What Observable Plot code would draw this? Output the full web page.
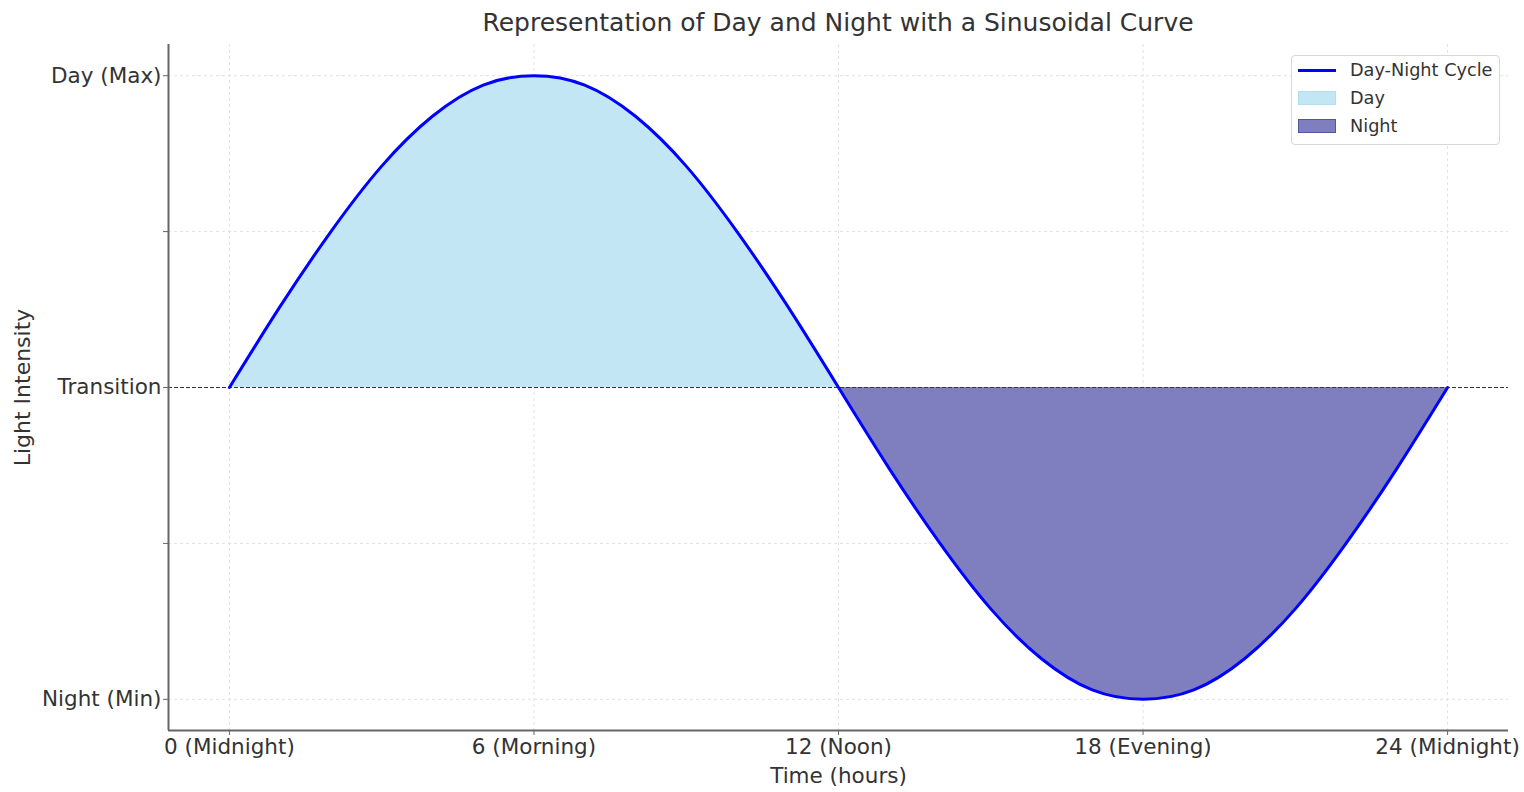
<!DOCTYPE html>
<html><head><meta charset="utf-8">
<script src="https://cdn.jsdelivr.net/npm/d3@7"></script>
<script src="https://cdn.jsdelivr.net/npm/@observablehq/plot@0.6"></script>
<style>
body{margin:0;background:#fff;font-family:"DejaVu Sans",sans-serif;}
#wrap{position:relative;width:1524px;height:792px;overflow:hidden;}
#title{position:absolute;left:168px;width:1340px;top:8px;text-align:center;font-size:25px;color:#333;line-height:30px;}
#chart{position:absolute;left:0;top:40px;}
#legend{position:absolute;left:1291px;top:55px;width:209px;height:90px;border:1px solid #d8d8d8;border-radius:4px;background:#fff;box-sizing:border-box;font-size:17.7px;color:#333;}
.item{position:absolute;left:6px;height:20px;display:flex;align-items:center;}
.sw{width:38px;height:14px;margin-right:14px;box-sizing:border-box;}
</style></head>
<body>
<div id="wrap">
  <div id="title">Representation of Day and Night with a Sinusoidal Curve</div>
  <div id="chart"></div>
  <div id="legend">
    <div class="item" style="top:4px"><div class="sw" style="height:3px;background:#0000ff"></div><span>Day-Night Cycle</span></div>
    <div class="item" style="top:32px"><div class="sw" style="background:#c3e6f5;border:1px solid #b5dcef"></div><span>Day</span></div>
    <div class="item" style="top:60px"><div class="sw" style="background:#7f7fbf;border:1px solid #5555a0"></div><span>Night</span></div>
  </div>
</div>
<script>
const hours = [0,1,2,3,4,5,6,7,8,9,10,11,12,13,14,15,16,17,18,19,20,21,22,23,24];
const intensity = [0,0.26,0.5,0.71,0.87,0.97,1,0.97,0.87,0.71,0.5,0.26,0,-0.26,-0.5,-0.71,-0.87,-0.97,-1,-0.97,-0.87,-0.71,-0.5,-0.26,0];
const xTicks = [0,6,12,18,24];
const xTickLabels = ["0 (Midnight)","6 (Morning)","12 (Noon)","18 (Evening)","24 (Midnight)"];
const yTicks = [-1,-0.5,0,0.5,1];
const yTickLabels = ["Night (Min)","","Transition","","Day (Max)"];

const data = hours.map((h,i)=>({h, v:intensity[i]}));
const xMap = new Map(xTicks.map((t,i)=>[t,xTickLabels[i]]));
const yMap = new Map(yTicks.map((t,i)=>[t,yTickLabels[i]]));
const xMin = -1.2, xMax = 25.2, yMin = -1.1, yMax = 1.1;

const chart = Plot.plot({
  width:1524, height:752,
  marginLeft:168, marginRight:16, marginTop:4, marginBottom:62,
  x:{domain:[xMin,xMax]}, y:{domain:[yMin,yMax]},
  style:{fontFamily:"DejaVu Sans, sans-serif", fontSize:"21.5px", color:"#333", background:"#fff"},
  marks:[
    Plot.gridX(xTicks,{stroke:"#e2e2e2", strokeOpacity:1, strokeDasharray:"3,3"}),
    Plot.gridY(yTicks,{stroke:"#e2e2e2", strokeOpacity:1, strokeDasharray:"3,3"}),
    Plot.areaY(data.filter(d=>d.h<=12),{x:"h", y1:0, y2:"v", fill:"#c3e6f5", curve:"natural"}),
    Plot.areaY(data.filter(d=>d.h>=12),{x:"h", y1:0, y2:"v", fill:"#7f7fbf", curve:"natural"}),
    Plot.ruleY([0],{stroke:"#333", strokeWidth:1.2, strokeDasharray:"4,2"}),
    Plot.line(data,{x:"h", y:"v", stroke:"#0000ff", strokeWidth:3, curve:"natural"}),
    Plot.ruleX([xMin],{stroke:"#666", strokeWidth:2}),
    Plot.ruleY([yMin],{stroke:"#666", strokeWidth:2}),
    Plot.axisX(xTicks,{tickFormat:d=>xMap.get(d), tickSize:5, tickPadding:3, stroke:"#666", fill:"#333", fontSize:21.5, label:null}),
    Plot.axisY(yTicks,{tickFormat:d=>yMap.get(d), tickSize:5, tickPadding:2, stroke:"#666", fill:"#333", fontSize:21.5, label:null}),
    Plot.text(["Time (hours)"],{x:12, y:yMin, dy:46, fontSize:21.5, fill:"#333"}),
    Plot.text(["Light Intensity"],{x:xMin, y:0, dx:-146, rotate:-90, fontSize:22, fill:"#333"})
  ]
});
document.getElementById("chart").appendChild(chart);
</script>
</body></html>
